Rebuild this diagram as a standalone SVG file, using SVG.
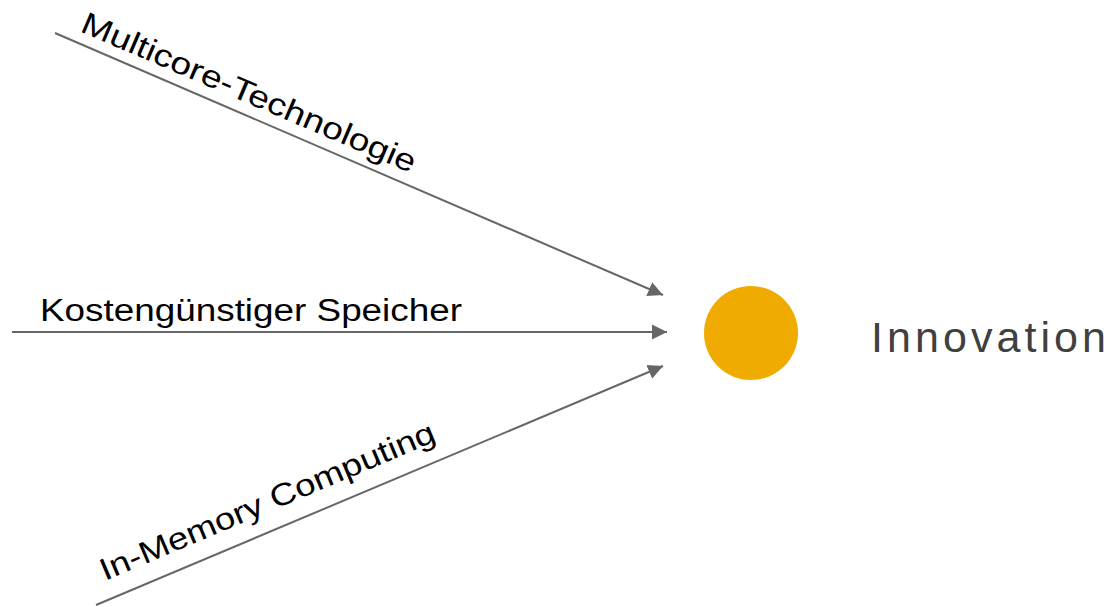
<svg xmlns="http://www.w3.org/2000/svg" width="1112" height="607" viewBox="0 0 1112 607">
  <style>
    .conn { stroke: #666666; stroke-width: 2; fill: none; }
    .label { font-family: "Liberation Sans", Arial, sans-serif; font-size: 31px; fill: #000000; }
    .title { font-family: "Liberation Sans", Arial, sans-serif; font-size: 43px; fill: #404040; }
  </style>
  <defs>
    <marker id="arrow" markerUnits="userSpaceOnUse" markerWidth="16" markerHeight="16" viewBox="0 -8 16 16" refX="15" refY="0" orient="auto">
      <path d="M0,-7.5 L15,0 L0,7.5 z" fill="#666666"/>
    </marker>
  </defs>
  <rect width="1112" height="607" fill="#ffffff"/>

  <!-- incoming drivers -->
  <g id="connectors">
    <line class="conn" x1="55" y1="33" x2="663" y2="295" marker-end="url(#arrow)"/>
    <line class="conn" x1="12" y1="332" x2="667" y2="332" marker-end="url(#arrow)"/>
    <line class="conn" x1="96" y1="605" x2="663" y2="366" marker-end="url(#arrow)"/>
  </g>

  <g id="label-multicore">
    <text class="label" transform="translate(79,31) rotate(23.2)" textLength="361" lengthAdjust="spacingAndGlyphs">Multicore-Technologie</text>
  </g>
  <g id="label-speicher">
    <text class="label" x="40" y="321" textLength="422" lengthAdjust="spacingAndGlyphs">Kostengünstiger Speicher</text>
  </g>
  <g id="label-inmemory">
    <text class="label" transform="translate(105,581) rotate(-22.9)" textLength="361" lengthAdjust="spacingAndGlyphs">In-Memory Computing</text>
  </g>

  <!-- result node -->
  <g id="node-innovation">
    <circle cx="751" cy="333" r="47" fill="#F0AB00"/>
    <text class="title" x="871" y="352" textLength="235" lengthAdjust="spacing">Innovation</text>
  </g>
</svg>
